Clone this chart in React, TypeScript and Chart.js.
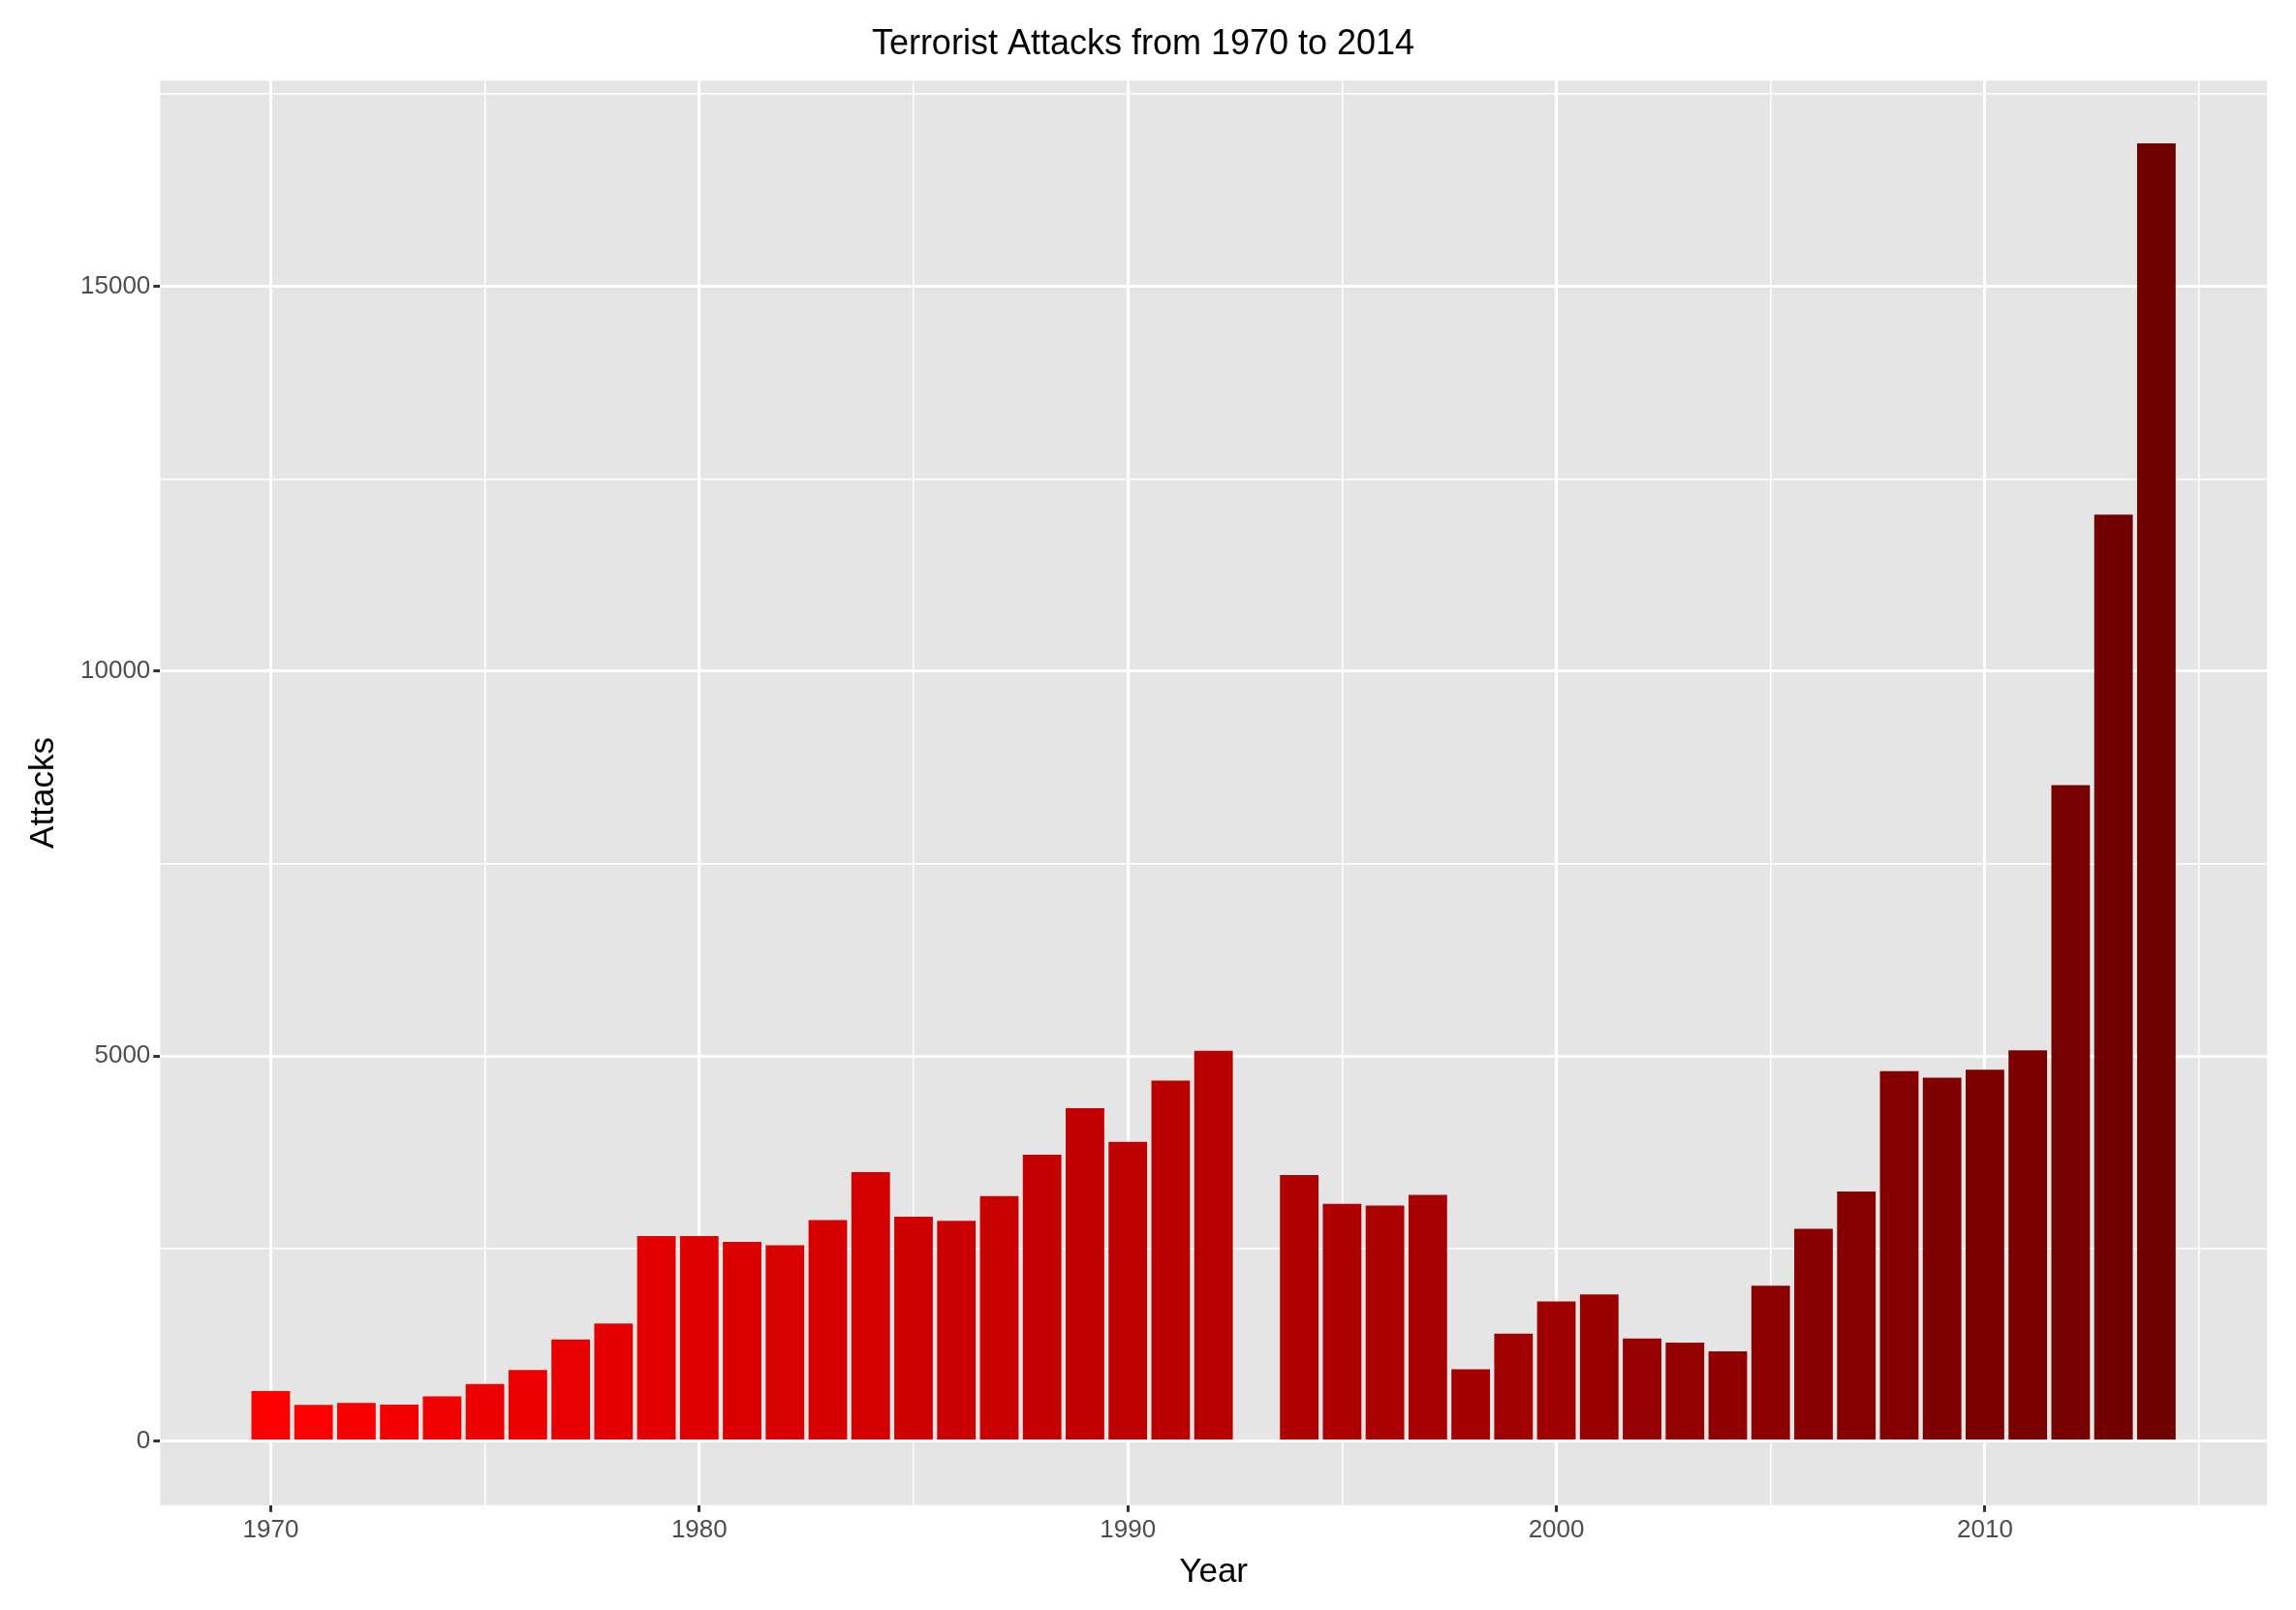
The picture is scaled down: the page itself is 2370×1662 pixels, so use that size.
import React, { useEffect, useRef } from "react";
import Chart from "chart.js/auto";

const years = [
  1970, 1971, 1972, 1973, 1974, 1975, 1976, 1977, 1978, 1979,
  1980, 1981, 1982, 1983, 1984, 1985, 1986, 1987, 1988, 1989,
  1990, 1991, 1992, 1994, 1995, 1996, 1997, 1998, 1999,
  2000, 2001, 2002, 2003, 2004, 2005, 2006, 2007, 2008, 2009,
  2010, 2011, 2012, 2013, 2014,
];
const attacks = [
  651, 471, 495, 473, 581, 740, 923, 1319, 1526, 2662,
  2662, 2586, 2544, 2870, 3495, 2915, 2860, 3183, 3721, 4324,
  3887, 4683, 5071, 3456, 3081, 3058, 3197, 934, 1395,
  1814, 1906, 1333, 1278, 1166, 2017, 2758, 3242, 4805, 4721,
  4826, 5076, 8522, 12036, 16860,
];
const xTicks = [1970, 1975, 1980, 1985, 1990, 1995, 2000, 2005, 2010, 2015];
const yTicks = [0, 2500, 5000, 7500, 10000, 12500, 15000, 17500];

const barColor = (y: number) => {
  const t = (y - 1970) / 44;
  const r = Math.round(255 - (255 - 112) * t);
  return `rgb(${r},0,0)`;
};

const panelBg = {
  id: "panelBg",
  beforeDraw(chart: any) {
    const { ctx, chartArea: a } = chart;
    ctx.save();
    ctx.fillStyle = "#E5E5E5";
    ctx.fillRect(a.left, a.top, a.right - a.left, a.bottom - a.top);
    ctx.restore();
  },
};

const font = "'Liberation Sans', Arial, Helvetica, sans-serif";

export default function App() {
  const ref = useRef<HTMLCanvasElement>(null);
  useEffect(() => {
    document.body.style.margin = "0";
    const chart = new Chart(ref.current!, {
      type: "bar",
      data: {
        datasets: [
          {
            data: years.map((y, i) => ({ x: y, y: attacks[i] })),
            backgroundColor: years.map(barColor),
            barPercentage: 0.9,
            categoryPercentage: 1,
          },
        ],
      },
      options: {
        animation: false,
        responsive: true,
        maintainAspectRatio: false,
        layout: { padding: { left: 20, right: 30, top: 10, bottom: 14 } },
        plugins: {
          legend: { display: false },
          tooltip: { enabled: false },
          title: {
            display: true,
            text: "Terrorist Attacks from 1970 to 2014",
            color: "#000",
            font: { family: font, size: 36, weight: "normal" },
            padding: { top: 14, bottom: 16 },
          },
        },
        scales: {
          x: {
            type: "linear",
            offset: false,
            min: 1967.42,
            max: 2016.58,
            afterBuildTicks: (s: any) => {
              s.ticks = xTicks.map((v) => ({ value: v }));
            },
            grid: {
              offset: false,
              color: "#FFFFFF",
              lineWidth: (c: any) => (c.tick && c.tick.value % 10 === 0 ? 3 : 1.5),
              tickColor: (c: any) => (c.tick && c.tick.value % 10 === 0 ? "#333333" : "rgba(0,0,0,0)"),
              tickLength: 7,
            },
            border: { display: false },
            ticks: {
              color: "#4D4D4D",
              font: { family: font, size: 26 },
              maxRotation: 0,
              autoSkip: false,
              callback: (v: any) => (v % 10 === 0 ? String(v) : ""),
            },
            title: {
              display: true,
              text: "Year",
              color: "#000",
              font: { family: font, size: 35 },
              padding: { top: 4 },
            },
          },
          y: {
            min: -833,
            max: 17674,
            afterBuildTicks: (s: any) => {
              s.ticks = yTicks.map((v) => ({ value: v }));
            },
            grid: {
              color: "#FFFFFF",
              lineWidth: (c: any) => (c.tick && c.tick.value % 5000 === 0 ? 3 : 1.5),
              tickColor: (c: any) => (c.tick && c.tick.value % 5000 === 0 ? "#333333" : "rgba(0,0,0,0)"),
              tickLength: 7,
            },
            border: { display: false },
            ticks: {
              color: "#4D4D4D",
              font: { family: font, size: 26 },
              autoSkip: false,
              callback: (v: any) => (v % 5000 === 0 ? String(v) : ""),
            },
            title: {
              display: true,
              text: "Attacks",
              color: "#000",
              font: { family: font, size: 35 },
              padding: { bottom: 14 },
            },
          },
        },
      },
      plugins: [panelBg],
    } as any);
    return () => chart.destroy();
  }, []);
  return (
    <div style={{ width: 2370, height: 1662, background: "#fff" }}>
      <canvas ref={ref} />
    </div>
  );
}
